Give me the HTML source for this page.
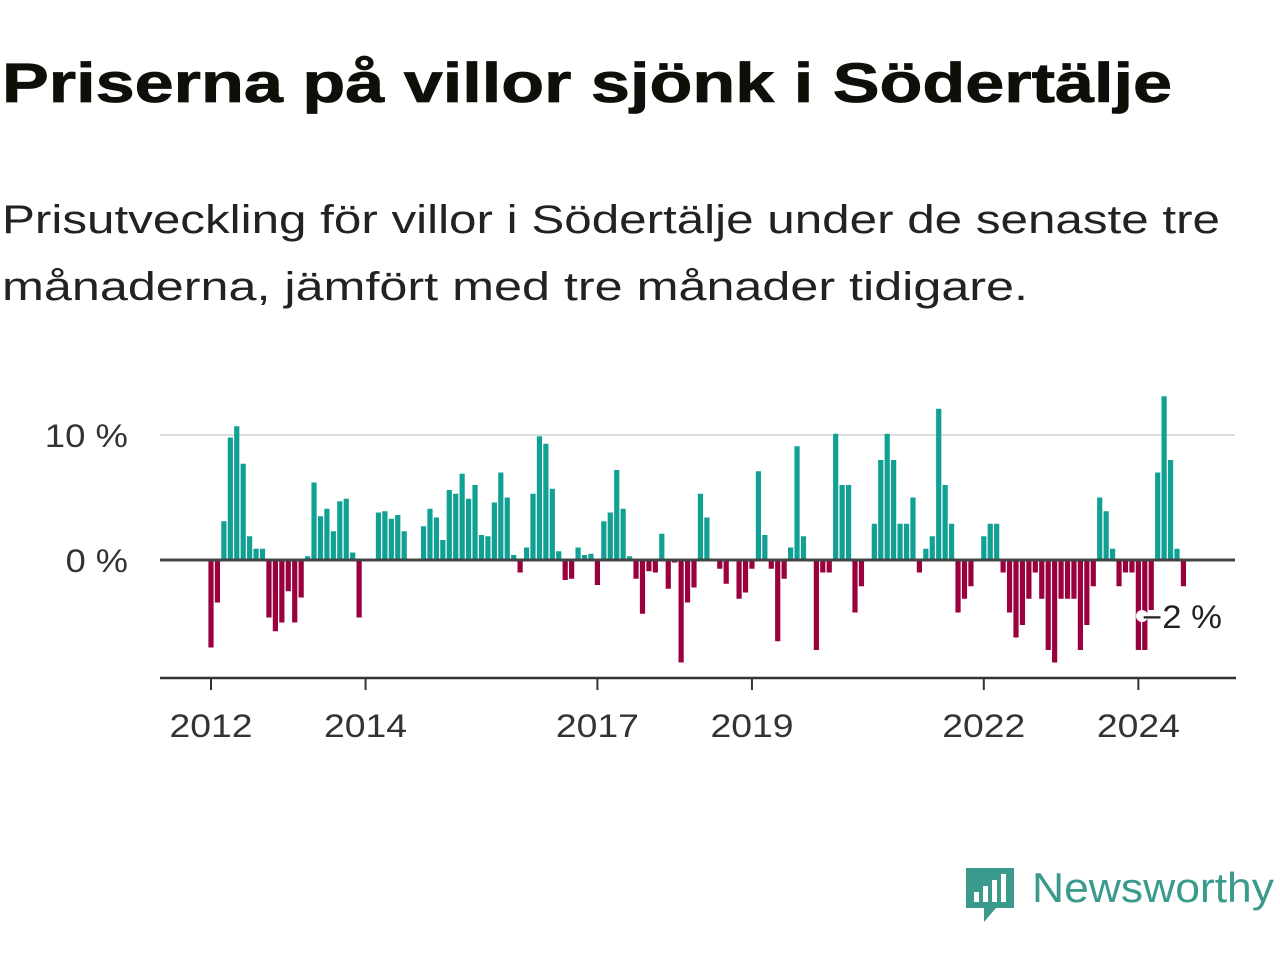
<!DOCTYPE html>
<html><head><meta charset="utf-8"><style>
html,body{margin:0;padding:0;background:#fff;}
svg{display:block;font-family:"Liberation Sans",sans-serif;}
</style></head><body>
<svg width="1280" height="960" viewBox="0 0 1280 960">
<text x="2" y="102" font-size="56" font-weight="bold" fill="#0f0f0a" stroke="#0f0f0a" stroke-width="0.8" textLength="1170" lengthAdjust="spacingAndGlyphs">Priserna på villor sjönk i Södertälje</text>
<text x="2" y="233" font-size="40" fill="#222" textLength="1218" lengthAdjust="spacingAndGlyphs">Prisutveckling för villor i Södertälje under de senaste tre</text>
<text x="2" y="300" font-size="40" fill="#222" textLength="1026" lengthAdjust="spacingAndGlyphs">månaderna, jämfört med tre månader tidigare.</text>
<g id="plot"></g>
<g>
<path d="M966 868 h48 v40 h-18 l-12 14 v-14 h-18 z" fill="#3a9a8c"/>
<rect x="974" y="892" width="5" height="10" fill="#fff"/><rect x="983" y="886" width="5" height="16" fill="#fff"/><rect x="992" y="880" width="5" height="22" fill="#fff"/><rect x="1001" y="874" width="5" height="28" fill="#fff"/>
<text x="1032" y="902" font-size="42" fill="#3a9a8c" textLength="242" lengthAdjust="spacingAndGlyphs">Newsworthy</text>
</g>
</svg>
<script>
const values = [-7.0,-3.4,3.1,9.8,10.7,7.7,1.9,0.9,0.9,-4.6,-5.7,-5.0,-2.5,-5.0,-3.0,0.3,6.2,3.5,4.1,2.3,4.7,4.9,0.6,-4.6,0,0.1,3.8,3.9,3.3,3.6,2.3,0,0,2.7,4.1,3.4,1.6,5.6,5.3,6.9,4.9,6.0,2.0,1.9,4.6,7.0,5.0,0.4,-1.0,1.0,5.3,9.9,9.3,5.7,0.7,-1.6,-1.5,1.0,0.4,0.5,-2.0,3.1,3.8,7.2,4.1,0.3,-1.5,-4.3,-0.9,-1.0,2.1,-2.3,-0.2,-8.2,-3.4,-2.2,5.3,3.4,0,-0.7,-1.9,0,-3.1,-2.6,-0.7,7.1,2.0,-0.7,-6.5,-1.5,1.0,9.1,1.9,0,-7.2,-1.0,-1.0,10.1,6.0,6.0,-4.2,-2.1,0,2.9,8.0,10.1,8.0,2.9,2.9,5.0,-1.0,0.9,1.9,12.1,6.0,2.9,-4.2,-3.1,-2.1,0,1.9,2.9,2.9,-1.0,-4.2,-6.2,-5.2,-3.1,-1.0,-3.1,-7.2,-8.2,-3.1,-3.1,-3.1,-7.2,-5.2,-2.1,5.0,3.9,0.9,-2.1,-1.0,-1.0,-7.2,-7.2,-4.0,7.0,13.1,8.0,0.9,-2.1];
const startYear = 2012;
const yTicks = [0, 10];
const yTickLabels = ["0 %", "10 %"];
const xTickYears = [2012, 2014, 2017, 2019, 2022, 2024];
const lastLabel = "−2 %";

const NS = "http://www.w3.org/2000/svg";
const g = document.getElementById("plot");
const x = i => 211 + i * 6.44;
const xYear = yr => x((yr - startYear) * 12);
const y = v => 560 - v * 12.5;
function mk(t, a){const e=document.createElementNS(NS,t);for(const k in a)e.setAttribute(k,a[k]);g.appendChild(e);return e;}

yTicks.forEach((t,k)=>{
  if(t!==0){const l=mk("line",{x1:160,x2:1235,y1:y(t),y2:y(t),stroke:"#ddd","stroke-width":2});
  
  }
  const lab=yTickLabels[k];
  const tx=mk("text",{x:128,y:y(t)+12,"font-size":32,fill:"#333","text-anchor":"end",textLength:lab.length*20.8,lengthAdjust:"spacingAndGlyphs"});
  tx.textContent=lab;
  
  
});
values.forEach((v,i)=>{
  if(v===0) return;
  const r=mk("rect",{x:x(i)-2.6,width:5.2,y:Math.min(y(v),y(0)),height:Math.abs(y(v)-y(0)),fill:v>0?"#11a194":"#99003d"});
  
  
});
const z=mk("line",{x1:160,x2:1235,y1:y(0),y2:y(0),stroke:"#444","stroke-width":3});


const ax=mk("line",{x1:160,x2:1236,y1:678,y2:678,stroke:"#333","stroke-width":2.5});


xTickYears.forEach(yr=>{
  const t=mk("line",{x1:xYear(yr),x2:xYear(yr),y1:678,y2:690,stroke:"#333","stroke-width":2});
  
  
  const tx=mk("text",{x:xYear(yr),y:737,"font-size":32,fill:"#333","text-anchor":"middle",textLength:83,lengthAdjust:"spacingAndGlyphs"});
  tx.textContent=yr;
  
  
});
const dot=mk("circle",{cx:1142,cy:616,r:6,fill:"#fff"});


const lbl=mk("text",{x:1142,y:628,"font-size":32,fill:"#222",textLength:80,lengthAdjust:"spacingAndGlyphs"});
lbl.textContent=lastLabel;


</script>
</body></html>
